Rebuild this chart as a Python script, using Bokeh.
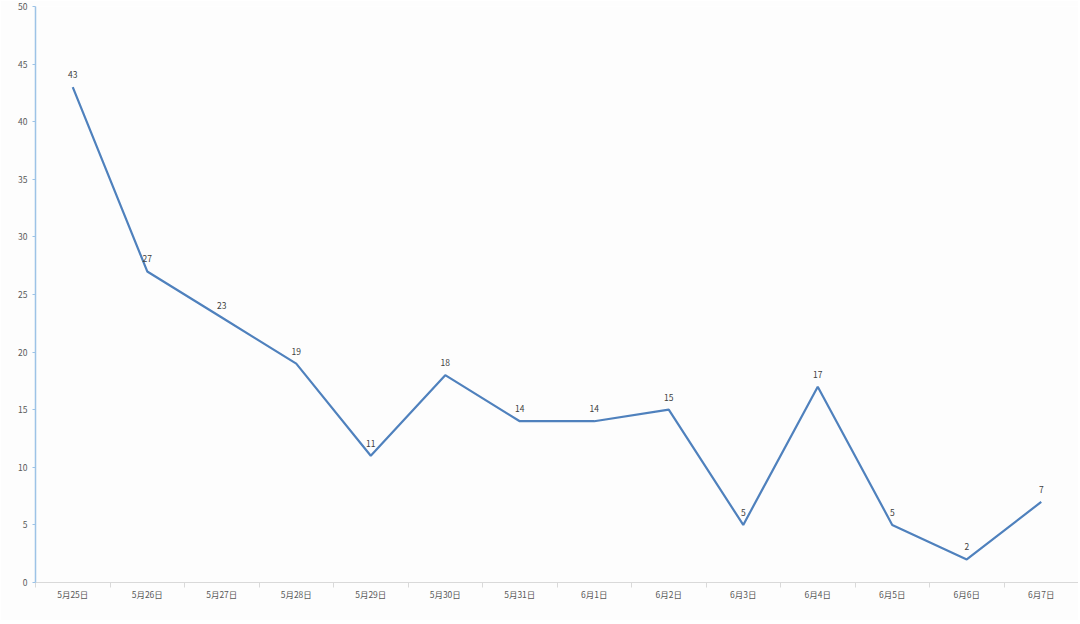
from bokeh.plotting import figure
from bokeh.models import Range1d, FixedTicker, ColumnDataSource, LabelSet
from bokeh.core.properties import value
from bokeh.embed import file_html
from bokeh.resources import INLINE

dates = ["5月25日", "5月26日", "5月27日", "5月28日", "5月29日", "5月30日", "5月31日",
         "6月1日", "6月2日", "6月3日", "6月4日", "6月5日", "6月6日", "6月7日"]
values = [43, 27, 23, 19, 11, 18, 14, 14, 15, 5, 17, 5, 2, 7]
y_ticks = [0, 5, 10, 15, 20, 25, 30, 35, 40, 45, 50]

xs = [i + 0.5 for i in range(len(dates))]
src = ColumnDataSource(dict(x=xs, y=values, t=[str(v) for v in values]))

p = figure(width=1078, height=620, output_backend="svg", toolbar_location=None,
           x_range=Range1d(0, len(dates)), y_range=Range1d(0, 50),
           min_border_left=35, min_border_right=0, min_border_top=6, min_border_bottom=38)
p.background_fill_color = "#fdfdfd"
p.border_fill_color = "#fdfdfd"
p.outline_line_color = None
p.grid.visible = False

font = "Noto Sans CJK SC"
p.line("x", "y", source=src, line_color="#4f81bd", line_width=2.2)
labels = LabelSet(x="x", y="y", text="t", source=src, y_offset=9, text_align="center",
                  text_font=value(font), text_font_size=value("8.5px"), text_color="#404040")
p.add_layout(labels)

xa = p.xaxis[0]
xa.ticker = FixedTicker(ticks=xs, minor_ticks=list(range(len(dates) + 1)))
xa.major_label_overrides = {x: d for x, d in zip(xs, dates)}
xa.major_tick_line_color = None
xa.major_tick_out = 0
xa.major_tick_in = 0
xa.minor_tick_line_color = "#d9d9d9"
xa.minor_tick_out = 5
xa.minor_tick_in = 0
xa.axis_line_color = "#d9d9d9"
xa.major_label_text_font = font
xa.major_label_text_font_size = "8.5px"
xa.major_label_text_color = "#595959"
xa.major_label_standoff = 0

ya = p.yaxis[0]
ya.ticker = FixedTicker(ticks=y_ticks)
ya.minor_tick_line_color = None
ya.major_tick_line_color = "#9dc3e6"
ya.major_tick_out = 3
ya.major_tick_in = 0
ya.axis_line_color = "#9dc3e6"
ya.axis_line_width = 1.5
ya.major_label_text_font = font
ya.major_label_text_font_size = "8.5px"
ya.major_label_text_color = "#595959"
ya.major_label_standoff = 5

open("out.html", "w").write(file_html(p, INLINE))
